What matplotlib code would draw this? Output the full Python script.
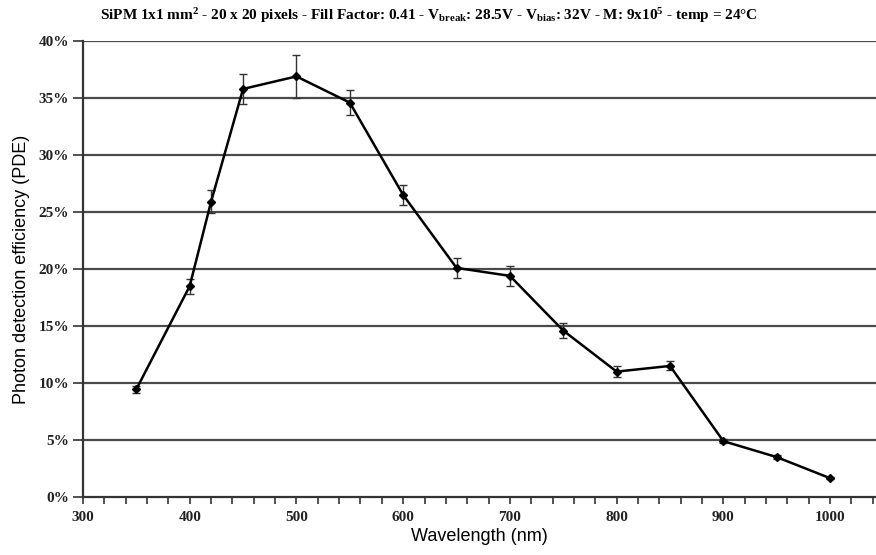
import matplotlib
matplotlib.use("Agg")
import matplotlib.pyplot as plt
from matplotlib.ticker import MultipleLocator, FuncFormatter

# data
wavelength = [350, 400, 420, 450, 500, 550, 600, 650, 700, 750, 800, 850, 900, 950, 1000]
pde = [9.45, 18.5, 25.9, 35.8, 36.9, 34.6, 26.5, 20.1, 19.4, 14.6, 11.0, 11.5, 4.9, 3.5, 1.65]
pde_err = [0.3, 0.65, 1.0, 1.3, 1.9, 1.1, 0.85, 0.9, 0.85, 0.65, 0.45, 0.4, 0.15, 0.15, 0.1]

plt.rcParams['mathtext.fontset'] = 'custom'
plt.rcParams['mathtext.rm'] = 'Liberation Serif:bold'
plt.rcParams['mathtext.it'] = 'Liberation Serif:bold'
plt.rcParams['mathtext.bf'] = 'Liberation Serif:bold'

fig = plt.figure(figsize=(8.76, 5.55), dpi=100)
ax = fig.add_axes([0.0947, 0.1045, 0.9053, 0.8215])

for y in range(5, 45, 5):
	ax.axhline(y, color='#4a4a4a', lw=1.6, zorder=1)

ax.errorbar(wavelength, pde, yerr=pde_err, color='black', lw=1.8, marker='D', ms=4,
	ecolor='#333333', elinewidth=1.0, capsize=3, capthick=1.0, zorder=3)

ax.set_xlim(300, 1043)
ax.set_ylim(0, 40)
ax.xaxis.set_major_locator(MultipleLocator(100))
ax.xaxis.set_minor_locator(MultipleLocator(20))
ax.yaxis.set_major_locator(MultipleLocator(5))
ax.yaxis.set_major_formatter(FuncFormatter(lambda v, p: "%d%%" % v))

for s in ['top', 'right']:
	ax.spines[s].set_visible(False)
for s in ['left', 'bottom']:
	ax.spines[s].set_color('#333333')
	ax.spines[s].set_linewidth(1.6)

ax.tick_params(axis='both', which='both', direction='out', color='#333333', width=1.2)
ax.tick_params(axis='x', which='major', length=5, pad=5)
ax.tick_params(axis='x', which='minor', length=5)
ax.tick_params(axis='y', length=7, pad=3)
for lab in ax.get_xticklabels() + ax.get_yticklabels():
	lab.set_fontfamily('Liberation Serif')
	lab.set_fontweight('bold')
	lab.set_fontsize(11)
	lab.set_color('#222222')

ax.set_xlabel('Wavelength (nm)', fontfamily='Liberation Sans', fontsize=13, labelpad=3)
ax.set_ylabel('Photon detection efficiency (PDE)', fontfamily='Liberation Sans', fontsize=13, labelpad=6)

title = (r"SiPM 1x1 mm$^{2}$ - 20 x 20 pixels - Fill Factor: 0.41 - V$_{\mathrm{break}}$: 28.5V"
	r" - V$_{\mathrm{bias}}$: 32V - M: 9x10$^{5}$ - temp = 24°C")
fig.text(0.49, 0.972, title, ha='center', va='center', fontfamily='Liberation Serif',
	fontweight='bold', fontsize=11)

fig.savefig('out.png', dpi=100)
